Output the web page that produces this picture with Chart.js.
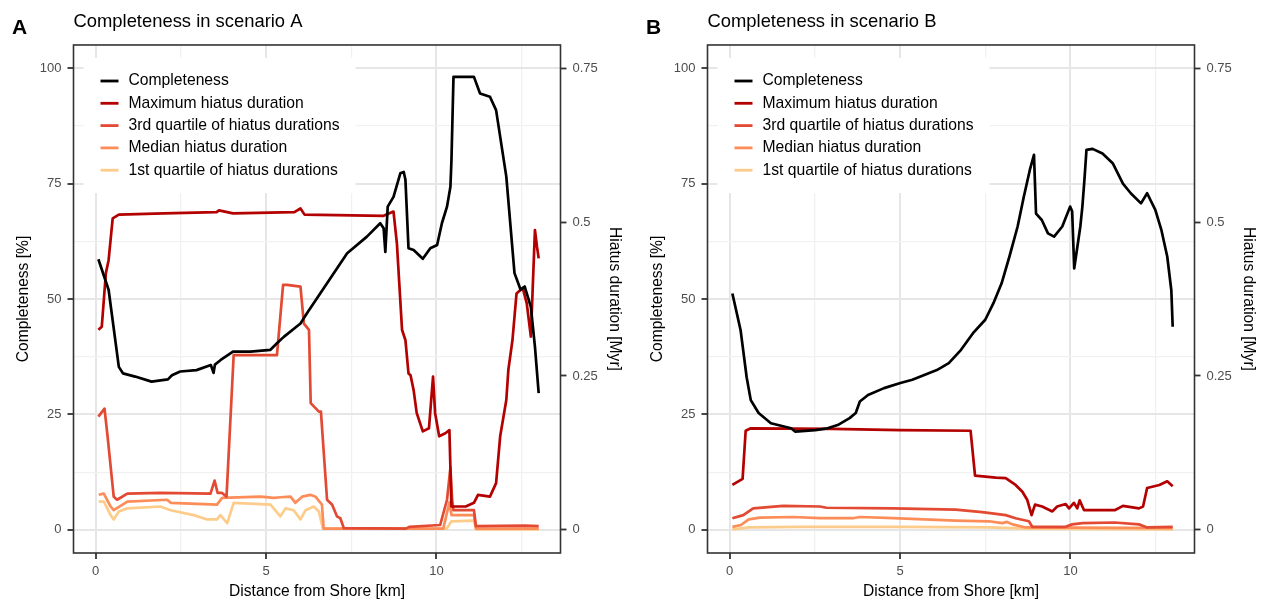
<!DOCTYPE html>
<html>
<head>
<meta charset="utf-8">
<script src="https://cdn.jsdelivr.net/npm/chart.js@4.4.1/dist/chart.umd.min.js"></script>
<style>
  body { margin: 0; background: #fff; width: 1262px; height: 601px; overflow: hidden; position: relative; }
  .panel { position: absolute; top: 0; width: 628px; height: 601px; }
</style>
</head>
<body>
<div class="panel" style="left:0"><canvas id="chartA" width="628" height="601"></canvas></div>
<div class="panel" style="left:634px"><canvas id="chartB" width="628" height="601"></canvas></div>
<script>
// ---- data (distance in km, completeness in %, hiatus in Myr) ----
const seriesNames = ['Completeness', 'Maximum hiatus duration', '3rd quartile of hiatus durations',
  'Median hiatus duration', '1st quartile of hiatus durations'];
const seriesColors = ['#000000', '#b30000', '#e34a33', '#fc8d59', '#fdcc8a'];

const xTicks = [0, 5, 10];
const xMinor = [2.5, 7.5, 12.5];
const yTicks = [0, 25, 50, 75, 100];
const yMinor = [12.5, 37.5, 62.5, 87.5];
const hiatusTicks = [0, 0.25, 0.5, 0.75];
const hiatusLabels = ['0', '0.25', '0.5', '0.75'];

// scenario A
const aCompX = [0.08, 0.38, 0.68, 0.8, 1.16, 1.64, 2.12, 2.24, 2.48, 2.96, 3.38, 3.46, 3.5, 3.67, 4.03, 4.54, 5.13, 5.32, 5.52, 6.01, 6.2, 6.79, 7.38, 7.96, 8.35, 8.45, 8.5, 8.57, 8.74, 8.94, 9.04, 9.09, 9.18, 9.33, 9.6, 9.82, 10.02, 10.16, 10.31, 10.41, 10.44, 10.5, 11.1, 11.28, 11.57, 11.75, 12.05, 12.29, 12.47, 12.59, 12.77, 12.89, 13.0];
const aCompY = [58.6, 52, 35.3, 33.9, 33.2, 32.1, 32.6, 33.5, 34.3, 34.6, 35.7, 34.0, 35.8, 36.8, 38.6, 38.6, 39, 40.4, 41.8, 44.7, 46.9, 53.4, 59.9, 63.5, 66.4, 65.3, 60.2, 70, 72.1, 77.2, 77.5, 75.8, 61, 60.6, 58.7, 61, 61.7, 66.4, 70, 74.3, 80, 98.1, 98.1, 94.5, 93.8, 90.9, 76.5, 55.6, 52, 52.7, 48.3, 39.7, 29.6];

const aMaxX = [0.08, 0.18, 0.3, 0.38, 0.5, 0.68, 2.0, 3.55, 3.62, 4.03, 5.83, 6.01, 6.13, 8.45, 8.74, 8.84, 8.99, 9.09, 9.18, 9.24, 9.33, 9.42, 9.6, 9.78, 9.9, 9.96, 10.08, 10.26, 10.38, 10.44, 10.86, 11.1, 11.22, 11.57, 11.75, 11.87, 12.05, 12.11, 12.23, 12.35, 12.53, 12.65, 12.77, 12.89, 12.95, 13.0];
const aMaxY = [0.325, 0.33, 0.417, 0.438, 0.506, 0.512, 0.514, 0.516, 0.519, 0.514, 0.516, 0.522, 0.512, 0.51, 0.517, 0.465, 0.325, 0.308, 0.254, 0.251, 0.227, 0.19, 0.16, 0.165, 0.249, 0.19, 0.152, 0.157, 0.162, 0.038, 0.038, 0.044, 0.057, 0.054, 0.076, 0.152, 0.211, 0.26, 0.308, 0.384, 0.393, 0.368, 0.314, 0.487, 0.46, 0.441];

const aQ3X = [0.08, 0.26, 0.35, 0.53, 0.63, 0.93, 1.9, 3.37, 3.49, 3.58, 3.71, 3.84, 4.05, 5.32, 5.5, 5.62, 6.01, 6.11, 6.26, 6.31, 6.55, 6.61, 6.79, 6.94, 7.08, 7.18, 7.28, 9.1, 9.2, 10.11, 10.31, 10.41, 10.46, 10.5, 11.1, 11.16, 12.6, 13.0];
const aQ3Y = [0.184, 0.197, 0.152, 0.054, 0.049, 0.059, 0.06, 0.059, 0.08, 0.06, 0.06, 0.054, 0.284, 0.284, 0.398, 0.398, 0.395, 0.335, 0.325, 0.206, 0.192, 0.192, 0.049, 0.041, 0.022, 0.019, 0.003, 0.002, 0.005, 0.008, 0.049, 0.101, 0.049, 0.032, 0.032, 0.006, 0.007, 0.006];

const aMedX = [0.09, 0.24, 0.44, 0.53, 0.93, 2.1, 2.2, 3.56, 3.71, 4.84, 5.23, 5.42, 5.72, 5.86, 6.06, 6.3, 6.45, 6.64, 6.69, 10.2, 10.38, 10.44, 11.1, 11.16, 13.0];
const aMedY = [0.057, 0.059, 0.038, 0.032, 0.046, 0.049, 0.044, 0.041, 0.052, 0.054, 0.052, 0.053, 0.054, 0.044, 0.054, 0.057, 0.054, 0.041, 0.002, 0.002, 0.045, 0.024, 0.024, 0.002, 0.002];

const aQ1X = [0.09, 0.24, 0.44, 0.53, 0.68, 0.93, 1.9, 2.2, 2.88, 3.27, 3.56, 3.66, 3.86, 4.05, 5.13, 5.42, 5.57, 5.81, 6.01, 6.16, 6.4, 6.55, 6.67, 10.3, 10.44, 11.1, 11.16, 13.0];
const aQ1Y = [0.046, 0.046, 0.024, 0.017, 0.03, 0.035, 0.038, 0.032, 0.024, 0.017, 0.017, 0.024, 0.011, 0.044, 0.041, 0.022, 0.035, 0.032, 0.017, 0.032, 0.038, 0.03, 0.002, 0.002, 0.014, 0.015, 0.001, 0.001];

// scenario B
const bCompX = [0.08, 0.32, 0.5, 0.62, 0.85, 1.21, 1.8, 1.92, 2.51, 2.87, 3.17, 3.52, 3.7, 3.82, 4.06, 4.53, 5.01, 5.36, 6.08, 6.43, 6.79, 7.14, 7.5, 7.74, 7.98, 8.21, 8.45, 8.63, 8.81, 8.93, 8.99, 9.16, 9.34, 9.52, 9.76, 9.99, 10.05, 10.11, 10.29, 10.35, 10.41, 10.47, 10.65, 10.94, 11.24, 11.54, 11.77, 12.07, 12.25, 12.49, 12.67, 12.84, 12.96, 13.0];
const bCompY = [51.2, 43.3, 33, 28.1, 25.3, 23.1, 22, 21.3, 21.6, 22, 22.7, 24.2, 25.3, 27.8, 29.2, 30.7, 31.8, 32.5, 34.6, 36.1, 39, 42.6, 45.5, 49.1, 53.4, 59.2, 65.7, 72.1, 78, 81.2, 68.5, 67.1, 64.2, 63.5, 65.7, 70, 69, 56.6, 65.7, 70, 75.8, 82.3, 82.5, 81.5, 79.4, 75, 72.9, 70.7, 72.9, 69.3, 64.9, 59.2, 51.9, 44];

const bMaxX = [0.08, 0.38, 0.47, 0.62, 3.0, 5.0, 7.07, 7.2, 7.81, 8.1, 8.39, 8.59, 8.73, 8.86, 8.96, 9.17, 9.47, 9.61, 9.86, 9.96, 10.1, 10.2, 10.27, 10.4, 11.3, 11.54, 12.01, 12.13, 12.25, 12.61, 12.84, 13.0];
const bMaxY = [0.073, 0.083, 0.161, 0.165, 0.164, 0.162, 0.161, 0.088, 0.085, 0.084, 0.073, 0.062, 0.049, 0.024, 0.041, 0.038, 0.03, 0.038, 0.042, 0.035, 0.044, 0.035, 0.048, 0.032, 0.032, 0.039, 0.035, 0.038, 0.068, 0.073, 0.079, 0.071];

const bQ3X = [0.08, 0.4, 0.69, 1.57, 2.65, 2.84, 4.8, 6.63, 7.41, 8.1, 8.39, 8.78, 8.88, 9.86, 10.05, 10.35, 11.3, 12.01, 12.25, 13.0];
const bQ3Y = [0.019, 0.024, 0.035, 0.039, 0.038, 0.036, 0.035, 0.033, 0.029, 0.024, 0.019, 0.014, 0.005, 0.005, 0.009, 0.011, 0.012, 0.009, 0.004, 0.005];

const bMedX = [0.08, 0.33, 0.56, 0.89, 1.86, 2.65, 3.62, 3.82, 4.8, 6.63, 7.61, 8.0, 8.14, 8.3, 8.69, 13.0];
const bMedY = [0.005, 0.008, 0.017, 0.02, 0.021, 0.019, 0.019, 0.021, 0.019, 0.015, 0.014, 0.011, 0.013, 0.009, 0.004, 0.003];

const bQ1X = [0.08, 0.56, 2.0, 5.0, 7.6, 8.8, 13.0];
const bQ1Y = [0.001, 0.004, 0.005, 0.005, 0.004, 0.002, 0.001];

// ---- drawing ----
const FONT = "'Liberation Sans', Arial, Helvetica, sans-serif";
Chart.defaults.font.family = FONT;

function pts(xs, ys) {
  return xs.map((x, i) => ({ x: x, y: ys[i] }));
}

function isMajor(list, v) {
  return list.some(t => Math.abs(t - v) < 1e-9);
}

const gridColor = ctx => isMajor(ctx.scale.axis === 'x' ? xTicks : yTicks, ctx.tick.value) ? '#e6e6e6' : '#f1f1f1';
const gridWidth = ctx => isMajor(ctx.scale.axis === 'x' ? xTicks : yTicks, ctx.tick.value) ? 2 : 1.3;
const tickColor = ctx => isMajor(ctx.scale.axis === 'x' ? xTicks : yTicks, ctx.tick.value) ? '#333333' : 'rgba(0,0,0,0)';

// white legend box inside the panel, like the ggplot one
const boxLegend = {
  id: 'boxLegend',
  afterDatasetsDraw(chart) {
    const ctx = chart.ctx;
    const ca = chart.chartArea;
    ctx.save();
    ctx.fillStyle = '#ffffff';
    ctx.fillRect(ca.left + 10, 58, 272, 135);
    ctx.font = '15.7px ' + FONT;
    ctx.textBaseline = 'middle';
    chart.data.datasets.forEach((ds, i) => {
      const y = 81 + i * 22.3;
      ctx.strokeStyle = ds.borderColor;
      ctx.lineWidth = 2.8;
      ctx.beginPath();
      ctx.moveTo(ca.left + 27, y);
      ctx.lineTo(ca.left + 45, y);
      ctx.stroke();
      ctx.fillStyle = '#000';
      ctx.fillText(ds.label, ca.left + 55, y);
    });
    ctx.restore();
  }
};

const panelFrame = {
  id: 'panelFrame',
  afterDraw(chart, args, opts) {
    const ctx = chart.ctx;
    const ca = chart.chartArea;
    ctx.save();
    ctx.strokeStyle = '#333333';
    ctx.lineWidth = 1.6;
    ctx.strokeRect(ca.left, ca.top, ca.right - ca.left, ca.bottom - ca.top);
    ctx.fillStyle = '#000';
    ctx.font = 'bold 21px ' + FONT;
    ctx.textBaseline = 'middle';
    ctx.fillText(opts.letter, 12, 28);
    ctx.restore();
  }
};

function makeChart(id, letter, title, series) {
  const datasets = series.map((s, i) => ({
    label: seriesNames[i],
    data: pts(s[0], s[1]),
    yAxisID: i === 0 ? 'y' : 'y1',
    borderColor: seriesColors[i],
    backgroundColor: seriesColors[i],
    borderWidth: 2.7,
    pointRadius: 0,
    tension: 0,
    borderJoinStyle: 'round',
    fill: false
  }));

  new Chart(document.getElementById(id), {
    type: 'line',
    data: { datasets: datasets },
    plugins: [boxLegend, panelFrame],
    options: {
      responsive: false,
      animation: false,
      devicePixelRatio: 1,
      layout: { padding: 0 },
      plugins: {
        legend: { display: false },
        tooltip: { enabled: false },
        title: {
          display: true,
          text: title,
          align: 'start',
          fullSize: false,
          color: '#000',
          font: { size: 18.4, weight: 'normal' },
          padding: { top: 10.5, bottom: 12.4 }
        },
        panelFrame: { letter: letter }
      },
      scales: {
        x: {
          type: 'linear',
          min: -0.65,
          max: 13.64,
          afterBuildTicks: s => { s.ticks = xTicks.concat(xMinor).sort((a, b) => a - b).map(v => ({ value: v })); },
          afterFit: s => { s.height = 48; },
          border: { display: false },
          grid: { color: gridColor, lineWidth: gridWidth, tickColor: tickColor, tickLength: 6, tickWidth: 1.8 },
          ticks: {
            autoSkip: false, maxRotation: 0, padding: 5, color: '#4d4d4d', font: { size: 13 },
            callback: v => isMajor(xTicks, v) ? String(v) : ''
          },
          title: { display: true, text: 'Distance from Shore [km]', color: '#000', font: { size: 15.6 }, padding: { top: 0, bottom: 0 } }
        },
        y: {
          position: 'left',
          min: -5,
          max: 105,
          afterBuildTicks: s => { s.ticks = yTicks.concat(yMinor).sort((a, b) => a - b).map(v => ({ value: v })); },
          afterFit: s => { s.width = 73.5; },
          border: { display: false },
          grid: { color: gridColor, lineWidth: gridWidth, tickColor: tickColor, tickLength: 6, tickWidth: 1.8 },
          ticks: {
            autoSkip: false, padding: 6, color: '#4d4d4d', font: { size: 13 },
            callback: v => isMajor(yTicks, v) ? String(v) : ''
          },
          title: { display: true, text: 'Completeness [%]', color: '#000', font: { size: 15.6 }, padding: { top: 14.5, bottom: 0 } }
        },
        y1: {
          position: 'right',
          min: -0.0375,
          max: 0.7875,
          afterBuildTicks: s => { s.ticks = hiatusTicks.map(v => ({ value: v })); },
          afterFit: s => { s.width = 67.5; },
          border: { display: false },
          grid: { drawOnChartArea: false, tickColor: '#333333', tickLength: 6, tickWidth: 1.8 },
          ticks: {
            autoSkip: false, padding: 6, color: '#4d4d4d', font: { size: 13 },
            callback: v => hiatusLabels[hiatusTicks.findIndex(t => Math.abs(t - v) < 1e-9)] ?? ''
          },
          title: { display: true, text: 'Hiatus duration [Myr]', color: '#000', font: { size: 15.6 }, padding: { top: 4.5, bottom: 0 } }
        }
      }
    }
  });
}

makeChart('chartA', 'A', 'Completeness in scenario A', [
  [aCompX, aCompY], [aMaxX, aMaxY], [aQ3X, aQ3Y], [aMedX, aMedY], [aQ1X, aQ1Y]
]);
makeChart('chartB', 'B', 'Completeness in scenario B', [
  [bCompX, bCompY], [bMaxX, bMaxY], [bQ3X, bQ3Y], [bMedX, bMedY], [bQ1X, bQ1Y]
]);
</script>
</body>
</html>
